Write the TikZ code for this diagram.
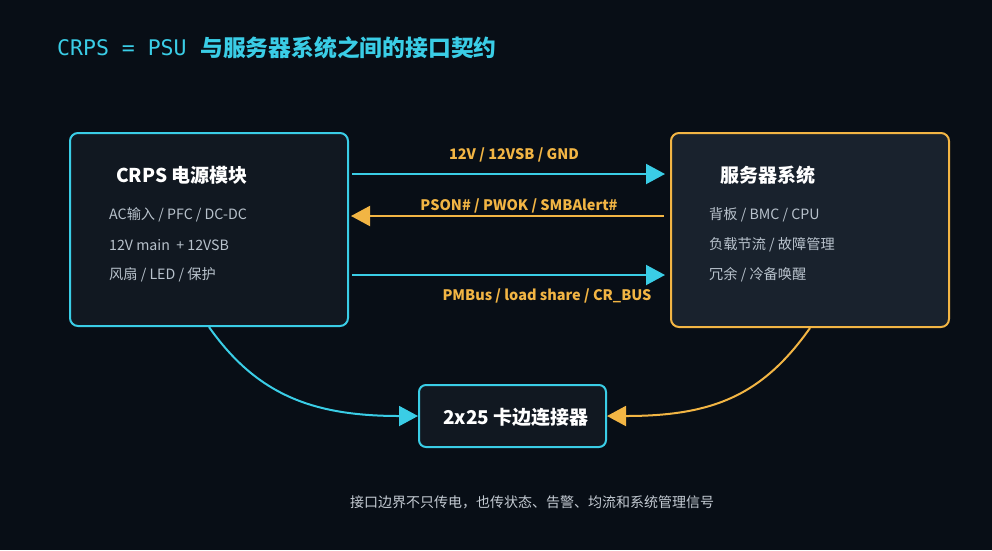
\documentclass[tikz,border=0pt]{standalone}
\usepackage{fontspec}
\setmainfont{Noto Sans CJK SC}
\newfontfamily\monofont{DejaVu Sans Mono}
\usetikzlibrary{arrows.meta}
\definecolor{bgdark}{HTML}{080E16}
\definecolor{leftfill}{HTML}{111821}
\definecolor{rightfill}{HTML}{19222D}
\definecolor{cyanline}{HTML}{3ACDE6}
\definecolor{accorange}{HTML}{F2B544}
\definecolor{itemgrey}{HTML}{B8C2CC}
\definecolor{notegrey}{HTML}{C4CBD3}
\tikzset{
  box/.style={draw, rounded corners=8pt, line width=2pt, inner sep=0pt},
  head/.style={font=\bfseries\fontsize{19}{22}\selectfont, text=white, anchor=west, inner sep=0pt},
  item/.style={font=\fontsize{14.2}{16}\selectfont, text=itemgrey, anchor=west, inner sep=0pt},
  sig/.style={font=\bfseries\fontsize{14.5}{17}\selectfont, text=accorange, inner sep=0pt},
  link/.style={line width=2pt, -{Triangle[length=19pt,width=20pt]}}
}

\begin{document}
\begin{tikzpicture}[x=1pt,y=-1pt]
  \fill[bgdark] (0,0) rectangle (992,550);
  \useasboundingbox (0,0) rectangle (992,550);
  % title
  \node[anchor=west, inner sep=0pt, text=cyanline, font=\monofont\fontsize{21.5}{26}\selectfont] (title) at (57,48) {CRPS = PSU};
  \node[anchor=west, inner sep=0pt, text=cyanline, font=\bfseries\fontsize{22.8}{26}\selectfont] (titlecn) at (200,48) {与服务器系统之间的接口契约};
  % boxes
  \node[box, draw=cyanline, fill=leftfill, minimum width=278pt, minimum height=193pt] (psu) at (209,229.5) {};
  \node[box, draw=accorange, fill=rightfill, minimum width=278pt, minimum height=194pt] (sys) at (810,230) {};
  \node[box, draw=cyanline, fill=leftfill, rounded corners=7pt, minimum width=187pt, minimum height=62pt] (conn) at (512.5,416) {};
  % box texts
  \node[head] (psuhead) at (116,175) {CRPS 电源模块};
  \node[item] (psua) at (109,215) {AC输入 / PFC / DC-DC};
  \node[item] (psub) at (109,245) {12V main \ + 12VSB};
  \node[item] (psuc) at (109,275) {风扇 / LED / 保护};
  \node[head] (syshead) at (720,175) {服务器系统};
  \node[item] (sysa) at (709,215) {背板 / BMC / CPU};
  \node[item] (sysb) at (709,245) {负载节流 / 故障管理};
  \node[item] (sysc) at (709,275) {冗余 / 冷备唤醒};
  \node[head, anchor=center, font=\bfseries\fontsize{19}{22}\selectfont] (connhead) at (516,417) {2x25 卡边连接器};
  % signals
  \draw[link, cyanline] ([xshift=3pt,yshift=55.5pt]psu.east) -- ([xshift=-5pt,yshift=56pt]sys.west);
  \draw[link, accorange] ([xshift=-6pt,yshift=14pt]sys.west) -- ([xshift=2pt,yshift=13.5pt]psu.east);
  \draw[link, cyanline] ([xshift=3pt,yshift=-45.5pt]psu.east) -- ([xshift=-5pt,yshift=-45pt]sys.west);
  \node[sig] (sigpwr) at (514,155) {12V / 12VSB / GND};
  \node[sig] (sigctl) at (519,206) {PSON\# / PWOK / SMBAlert\#};
  \node[sig] (sigbus) at (547,296) {PMBus / load share / CR\_BUS};
  % to connector
  \draw[link, cyanline] (psu.south) .. controls +(48,68) and +(-105,0) .. (conn.west);
  \draw[link, accorange] (sys.south) .. controls +(-48,68) and +(105,0) .. (conn.east);
  \node[font=\fontsize{14}{16}\selectfont, text=notegrey, inner sep=0pt] (note) at (532,502)
    {接口边界不只传电，也传状态、告警、均流和系统管理信号};
\end{tikzpicture}
\end{document}
